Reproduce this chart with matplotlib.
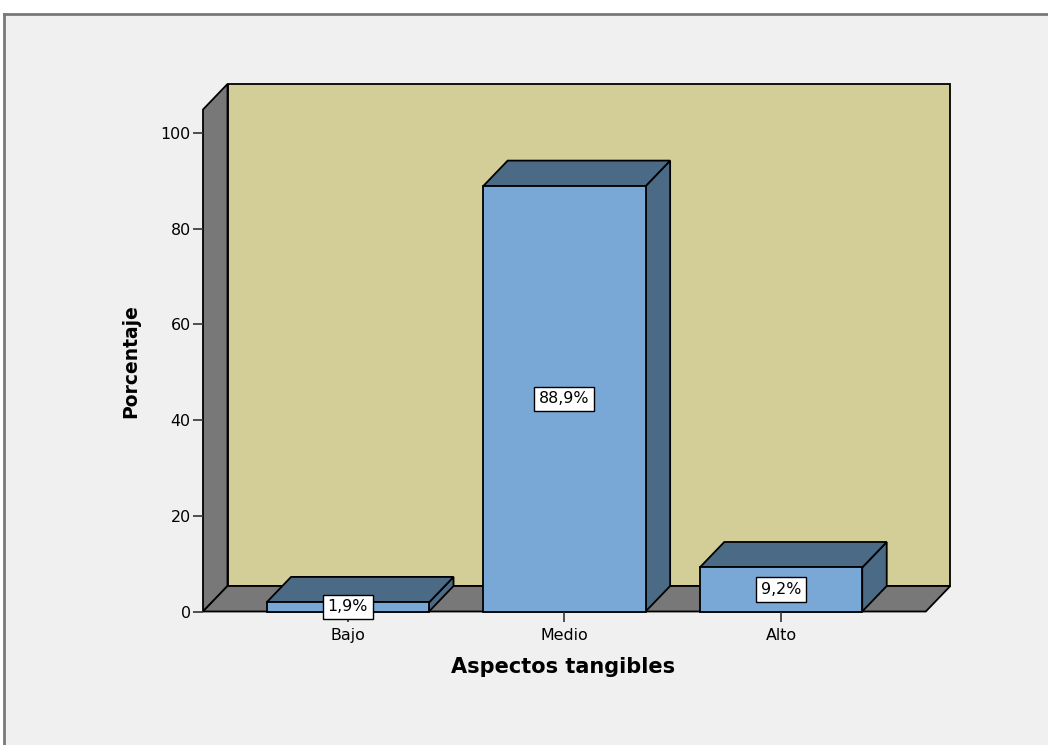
import matplotlib
matplotlib.use("Agg")
import matplotlib.pyplot as plt
from matplotlib.patches import Polygon, Rectangle
from matplotlib.lines import Line2D

categorias = ["Bajo", "Medio", "Alto"]
porcentajes = [1.9, 88.9, 9.2]
etiquetas = ["1,9%", "88,9%", "9,2%"]
yticks = [0, 20, 40, 60, 80, 100]

W, H = 1048, 745
DPI = 100

# colores
c_fondo = "#f0f0f0"
c_pared = "#d3ce98"
c_suelo = "#787878"
c_frente = "#7aa8d6"
c_lado = "#4b6a86"

# geometría en píxeles
x_front_left, x_back_right = 203, 950
y_zero, y_back_top = 611.5, 84
px_per_cat = 216.6
px_per_unit = 4.785
depth_px = (24.5, 25.5)

fig = plt.figure(figsize=(W / DPI, H / DPI), dpi=DPI)
fig.patch.set_facecolor("white")

# marco del visor
fig.add_artist(Rectangle((4 / W, 0), 1, 1 - 14 / H, transform=fig.transFigure,
                         facecolor=c_fondo, edgecolor="none", zorder=0))
fig.add_artist(Line2D([4 / W, 1], [1 - 14 / H, 1 - 14 / H], transform=fig.transFigure,
                      color="#7a7a7a", lw=2))
fig.add_artist(Line2D([4 / W, 4 / W], [0, 1 - 14 / H], transform=fig.transFigure,
                      color="#7a7a7a", lw=2))

ax = fig.add_axes([x_front_left / W, (H - y_zero) / H,
                   (x_back_right - x_front_left) / W, (y_zero - y_back_top) / H])
ax.patch.set_alpha(0)
for s in ax.spines.values():
    s.set_visible(False)

margin = (347.8 - x_front_left) / px_per_cat
xmin = -margin
xmax_front = len(categorias) - 1 + margin
ax.set_xlim(xmin, xmin + (x_back_right - x_front_left) / px_per_cat)
ax.set_ylim(0, (y_zero - y_back_top) / px_per_unit)

ddx = depth_px[0] / px_per_cat
ddy = depth_px[1] / px_per_unit
ymax_front = ax.get_ylim()[1] - ddy

ec = dict(edgecolor="black", linewidth=1.3, joinstyle="miter", clip_on=False)

# pared del fondo, pared izquierda y suelo
ax.add_patch(Polygon([(xmin + ddx, ddy), (xmax_front + ddx, ddy),
                      (xmax_front + ddx, ymax_front + ddy), (xmin + ddx, ymax_front + ddy)],
                     facecolor=c_pared, **ec))
ax.add_patch(Polygon([(xmin, 0), (xmin, ymax_front), (xmin + ddx, ymax_front + ddy),
                      (xmin + ddx, ddy)], facecolor=c_suelo, **ec))
ax.add_patch(Polygon([(xmin, 0), (xmax_front, 0), (xmax_front + ddx, ddy),
                      (xmin + ddx, ddy)], facecolor=c_suelo, **ec))

# barras 3D
ancho = 0.75
for i, v in enumerate(porcentajes):
    x0, x1 = i - ancho / 2, i + ancho / 2
    ax.add_patch(Polygon([(x1, 0), (x1, v), (x1 + ddx, v + ddy), (x1 + ddx, ddy)],
                         facecolor=c_lado, **ec))
    ax.add_patch(Polygon([(x0, v), (x1, v), (x1 + ddx, v + ddy), (x0 + ddx, v + ddy)],
                         facecolor=c_lado, **ec))
    ax.add_patch(Rectangle((x0, 0), ancho, v, facecolor=c_frente, **ec))
    ax.text(i, v / 2, etiquetas[i], ha="center", va="center", fontsize=11.4,
            bbox=dict(boxstyle="square,pad=0.3", facecolor="white",
                      edgecolor="black", linewidth=1.0), zorder=5)

ax.set_xticks(range(len(categorias)))
ax.set_xticklabels(categorias)
ax.set_yticks(yticks)
ax.set_yticklabels([str(t) for t in yticks])
ax.tick_params(axis="both", length=7, width=1.2, color="#333333", labelsize=11.4,
               labelcolor="black")
ax.tick_params(axis="x", pad=5)
ax.tick_params(axis="y", pad=2)

fig.text(563 / W, 1 - 667 / H, "Aspectos tangibles", ha="center", va="center",
         fontsize=15, fontweight="bold")
fig.text(131 / W, 1 - 361 / H, "Porcentaje", ha="center", va="center",
         rotation=90, fontsize=13.5, fontweight="bold")

fig.savefig("out.png", dpi=DPI, facecolor=fig.get_facecolor())
